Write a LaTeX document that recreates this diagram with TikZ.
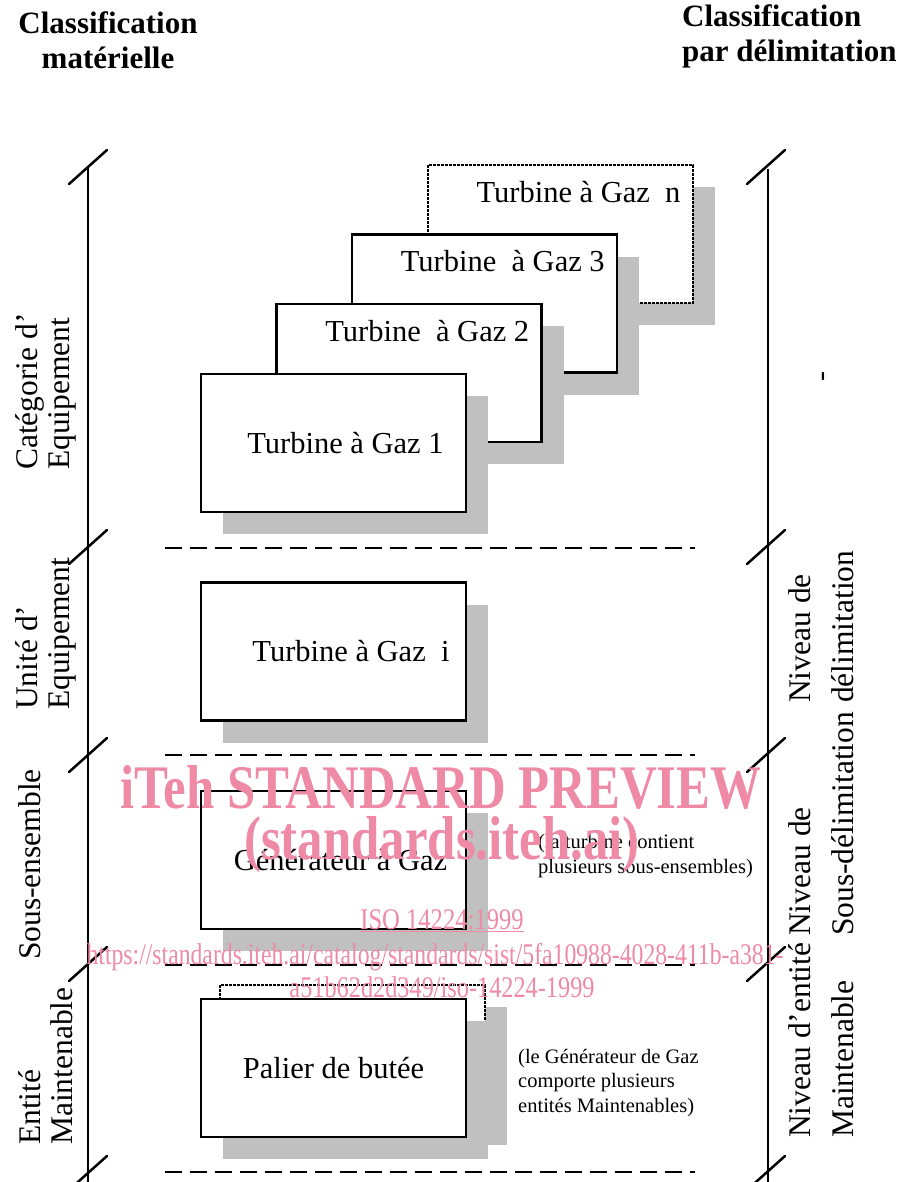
\documentclass[tikz,border=0pt]{standalone}
\usepackage{fontspec}
\setmainfont{Liberation Serif}
\usetikzlibrary{shadows}
\definecolor{shadegray}{RGB}{192,192,192}
\definecolor{wmpink}{RGB}{238,138,166}

\begin{document}
\begin{tikzpicture}[x=1pt, y=-1pt,
      every node/.style={font=\fontsize{30.5}{34}\selectfont},
      title/.style={font=\fontsize{31}{35}\selectfont\bfseries, align=center, inner sep=0pt},
      axis/.style={line width=2.5pt},
      sep/.style={line width=2.5pt, dash pattern=on 17pt off 8pt},
      gbox/.style={draw, line width=2.5pt, fill=white, minimum width=265pt, minimum height=138pt,
        drop shadow={shadow xshift=22pt, shadow yshift=-22pt, fill=shadegray, opacity=1}},
      backbox/.style={gbox, line width=2pt, dash pattern=on 3pt off 1pt},
      lab/.style={rotate=90, anchor=west, align=left, inner sep=0pt, font=\fontsize{31.5}{32}\selectfont},
      rlab/.style={lab, font=\fontsize{31.5}{43}\selectfont},
      note/.style={anchor=base west, align=left, inner sep=0pt, font=\fontsize{20.5}{24.5}\selectfont},
      wm/.style={text=wmpink, inner sep=0pt}
  ]
    \useasboundingbox (0,0) rectangle (903,1182);

    % titles
    \node[title] (ttl) at (108,40) {Classification\\matérielle};
    \node[title, align=left, anchor=west] (ttr) at (682,36) {Classification\\par délimitation};

    % the two axes with their level marks
    \coordinate (ltop) at (88,167);
    \coordinate (lbot) at (88,1182);
    \coordinate (rtop) at (768,169);
    \coordinate (rbot) at (768,1182);
    \draw[axis] (ltop) -- (lbot);
    \draw[axis] (rtop) -- (rbot);
    \foreach \y in {167,547,755,964,1173} {
      \draw[axis, line cap=round] (69,\y+17) -- (107,\y-17);
      \draw[axis, line cap=round] (747,\y+17) -- (785,\y-17);
    }
    \foreach \y in {548,755,965,1172} {
      \draw[sep] (165,\y) -- (695,\y);
    }

    % level names
    \node[lab] (cat) at (46,470) {Catégorie d’\\Equipement};
    \node[lab] (unit) at (46,710) {Unité d’\\Equipement};
    \node[lab] (sub) at (30,960) {Sous-ensemble};
    \node[lab] (ent) at (46,1145) {Entité\\Maintenable};
    \node[rlab] (lvl1) at (821,703) {Niveau de\\délimitation};
    \node[rlab] (lvl2) at (821,936) {Niveau de\\Sous-délimitation};
    \node[rlab] (lvl3) at (821,1138) {Niveau d’entité\\Maintenable};
    \node[rotate=90, inner sep=0pt, font=\fontsize{30}{30}\selectfont] (tick) at (826,377) {-};

    % equipment class
    \node[backbox] (gtn) at (560.5,234) {};
    \node[anchor=east] (ttn) at ([xshift=-10pt, yshift=-28pt]gtn.north east) {Turbine à Gaz\ \ n};
    \node[gbox] (gt3) at (484.5,303.5) {};
    \node[anchor=east] (tt3) at ([xshift=-10pt, yshift=-28pt]gt3.north east) {Turbine\ \ à Gaz 3};
    \node[gbox] (gt2) at (409,373) {};
    \node[anchor=east] (tt2) at ([xshift=-10pt, yshift=-28pt]gt2.north east) {Turbine\ \ à Gaz 2};
    \node[gbox] (gt1) at (333.5,443) {\hspace*{24pt}Turbine à Gaz 1};

    % equipment unit, subunit, maintainable item
    \node[gbox] (gti) at (333.5,651.5) {\hspace*{35pt}Turbine à Gaz\ \ i};
    \node[gbox] (gen) at (333.5,860) {\hspace*{14pt}Générateur à Gaz};
    \node[backbox] (pback) at (352.5,1054) {};
    \node[gbox] (pal) at (333.5,1068) {Palier de butée};

    \node[note] (n1) at (538,873) {(la turbine contient\\plusieurs sous-ensembles)};
    \node[note] (n2) at (518,1112) {(le Générateur de Gaz\\comporte plusieurs\\entités Maintenables)};

    % watermark
    \node[wm, font=\fontsize{62}{62}\selectfont\bfseries, xscale=0.82] (wm1) at (441,787) {iTeh STANDARD PREVIEW};
    \node[wm, font=\fontsize{62}{62}\selectfont\bfseries, xscale=0.82] (wm2) at (442,845) {(standards.iteh.ai)};
    \node[wm, font=\fontsize{30}{30}\selectfont, xscale=0.82] (wm3) at (442,921) {\underline{ISO 14224:1999}};
    \node[wm, font=\fontsize{30}{30}\selectfont, xscale=0.79] (wm4) at (435,957) {https://standards.iteh.ai/catalog/standards/sist/5fa10988-4028-411b-a381-};
    \node[wm, font=\fontsize{30}{30}\selectfont, xscale=0.81] (wm5) at (442,987) {a51b62d2d349/iso-14224-1999};
  \end{tikzpicture}
\end{document}
